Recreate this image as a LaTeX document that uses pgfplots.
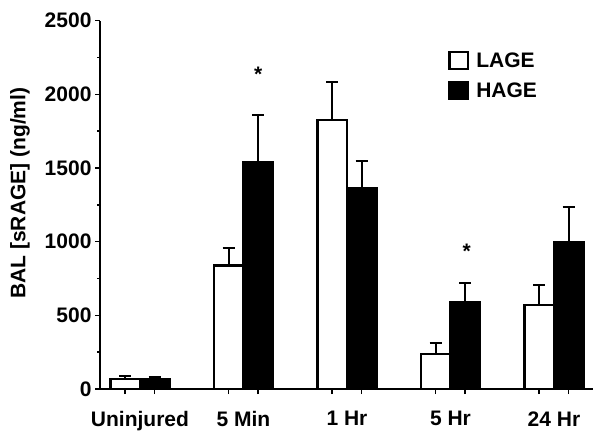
\documentclass[border=0pt]{standalone}
\usepackage{fontspec}
\setmainfont{Liberation Sans}
\usepackage{pgfplots}
\pgfplotsset{compat=1.18}
\newcommand{\lbl}{\fontsize{21}{25}\selectfont\bfseries}
\begin{document}
\begin{tikzpicture}
\path[use as bounding box] (0,0) rectangle (604pt,445pt);
\begin{axis}[
  at={(100pt,56pt)}, anchor=south west,
  scale only axis, width=493pt, height=368.3pt,
  xmin=-0.386, xmax=4.377, ymin=0, ymax=2500,
  axis lines*=left,
  axis line style={line width=2pt, -},
  ybar=0pt, bar width=0.285,
  ytick={0,500,...,2500}, minor y tick num=1,
  xtick={-0.1425,0.1425,0.8575,1.1425,1.8575,2.1425,2.8575,3.1425,3.8575,4.1425},
  xticklabels={},
  extra x ticks={0,1,2,3,4},
  extra x tick labels={Uninjured,5 Min,1 Hr,5 Hr,24 Hr},
  extra x tick style={major tick length=0pt, xticklabel style={yshift=-19pt}},
  tick align=outside, major tick length=5pt, minor tick length=3pt,
  tick style={line width=1.5pt, black},
  every tick label/.append style={font=\lbl, text=black},
  /pgf/number format/assume math mode=true,
  /pgf/number format/1000 sep={},
  ylabel={BAL [sRAGE] (ng/ml)},
  ylabel style={font=\lbl, at={(axis description cs:-0.1623,0.532)}, anchor=center},
  legend style={at={(axis description cs:0.706,0.92)}, anchor=north west, draw=none, fill=none,
    inner sep=0pt, font=\lbl, row sep=10pt, column sep=5pt, nodes={inner sep=2pt}},
  legend cell align=left,
  legend image code/.code={\draw[#1, line width=2.5pt] (0pt,-8.5pt) rectangle (18.5pt,8.5pt);},
]
\addplot[draw=black, fill=white, line width=2.5pt,
  error bars/.cd, y dir=plus, y explicit,
  error bar style={line width=2pt, black},
  error mark options={rotate=90, line width=2pt, mark size=6pt, black}]
  coordinates {(0,68) +- (0,22) (1,837) +- (0,118) (2,1826) +- (0,258) (3,236) +- (0,74) (4,570) +- (0,136)};
\addlegendentry{LAGE}
\addplot[draw=black, fill=black, line width=2.5pt,
  error bars/.cd, y dir=plus, y explicit,
  error bar style={line width=2pt, black},
  error mark options={rotate=90, line width=2pt, mark size=6pt, black}]
  coordinates {(0,68) +- (0,16) (1,1536) +- (0,326) (2,1360) +- (0,188) (3,586) +- (0,132) (4,996) +- (0,241)};
\addlegendentry{HAGE}
\node[font=\lbl, anchor=base, inner sep=0pt] at (axis cs:1.1425,2084) {*};
\node[font=\lbl, anchor=base, inner sep=0pt] at (axis cs:3.157,884) {*};
\end{axis}
\end{tikzpicture}
\end{document}
